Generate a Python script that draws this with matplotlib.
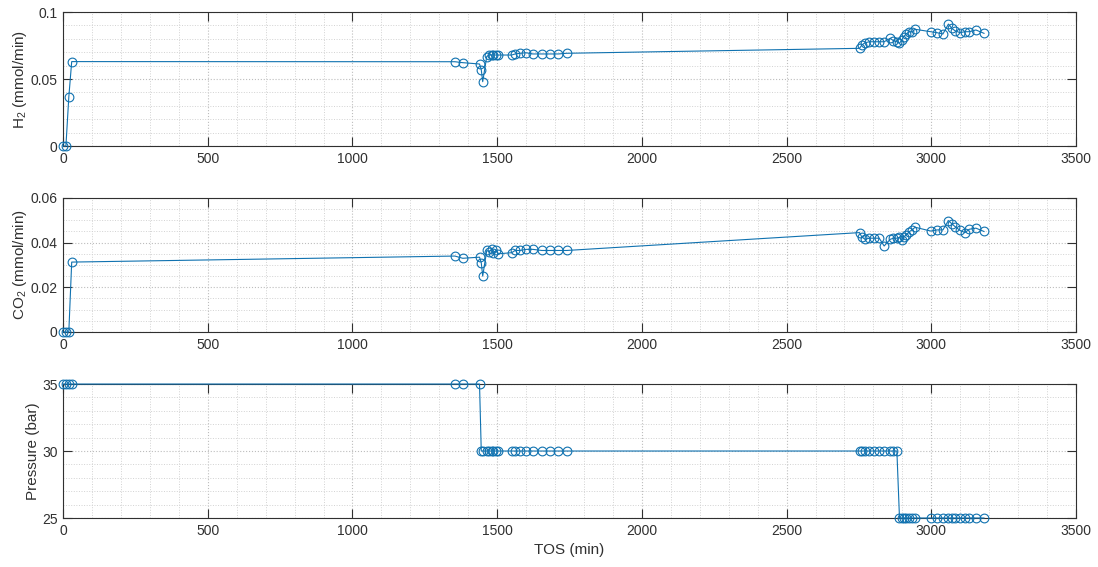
"""TOS profiles of H2 and CO2 production and reactor pressure."""

import matplotlib
matplotlib.use("Agg")
import matplotlib.pyplot as plt
from matplotlib.ticker import MultipleLocator, FuncFormatter

plt.rcParams["font.family"] = ["Liberation Sans", "DejaVu Sans"]
plt.rcParams["mathtext.fontset"] = "custom"
plt.rcParams["mathtext.rm"] = "Liberation Sans"
plt.rcParams["mathtext.default"] = "regular"

# time on stream (min)
tos = [0, 10, 20, 30,
       1354, 1381, 1439, 1445, 1450, 1464, 1472, 1481, 1486, 1496, 1503,
       1550, 1562, 1579, 1600, 1623, 1654, 1683, 1711, 1740,
       2752, 2760, 2771, 2786, 2802, 2820, 2837, 2858, 2869, 2881, 2890,
       2898, 2904, 2913, 2924, 2933, 2944, 2998, 3019, 3040, 3059, 3071,
       3082, 3099, 3116, 3131, 3154, 3182]

h2 = [0, 0, 0.0366, 0.063,
      0.0629, 0.0622, 0.0612, 0.057, 0.048, 0.0668, 0.0679, 0.0679, 0.0679,
      0.0679, 0.0679, 0.0679, 0.0687, 0.0692, 0.0696, 0.0687, 0.0687,
      0.0687, 0.0687, 0.0692,
      0.0729, 0.0754, 0.0771, 0.0778, 0.0778, 0.0778, 0.0778, 0.0804,
      0.0786, 0.0778, 0.0767, 0.0791, 0.0816, 0.0836, 0.0853, 0.0853,
      0.0871, 0.0853, 0.0846, 0.0836, 0.0910, 0.0878, 0.0860, 0.0846,
      0.0853, 0.0853, 0.0866, 0.0841]

co2 = [0, 0, 0, 0.0313,
       0.0340, 0.0330, 0.0335, 0.0310, 0.0250, 0.0365, 0.0360, 0.0370,
       0.0355, 0.0365, 0.0350, 0.0355, 0.0365, 0.0365, 0.0370, 0.0370,
       0.0365, 0.0365, 0.0365, 0.0365,
       0.0445, 0.0425, 0.0415, 0.0420, 0.0420, 0.0420, 0.0385, 0.0415,
       0.0420, 0.0420, 0.0424, 0.0412, 0.0425, 0.0435, 0.0449, 0.0457,
       0.0469, 0.0452, 0.0457, 0.0457, 0.0499, 0.0484, 0.0472, 0.0455,
       0.0445, 0.0460, 0.0465, 0.0450]

pressure = [35, 35, 35, 35,
            35, 35, 35, 30, 30, 30, 30, 30, 30, 30, 30,
            30, 30, 30, 30, 30, 30, 30, 30, 30,
            30, 30, 30, 30, 30, 30, 30, 30, 30, 30, 25,
            25, 25, 25, 25, 25, 25, 25, 25, 25, 25, 25,
            25, 25, 25, 25, 25, 25]

panels = [
    (h2, "H$_2$ (mmol/min)", (0, 0.1), 0.05, 0.01),
    (co2, "CO$_2$ (mmol/min)", (0, 0.06), 0.02, 0.005),
    (pressure, "Pressure (bar)", (25, 35), 5, 1),
]

color = "#1072b0"
dark = "#303030"

fig = plt.figure(figsize=(10.98, 5.67), dpi=100)
bottoms = [0.7425, 0.4145, 0.0864]

for (vals, label, ylim, major, minor), b in zip(panels, bottoms):
    ax = fig.add_axes([0.0574, b, 0.9226, 0.2363])
    ax.plot(tos, vals, color=color, lw=0.8, marker="o", ms=6.3,
            mfc="none", mew=0.8, clip_on=False, zorder=3)
    ax.set_xlim(0, 3500)
    ax.set_ylim(*ylim)
    ax.xaxis.set_major_locator(MultipleLocator(500))
    ax.xaxis.set_minor_locator(MultipleLocator(100))
    ax.yaxis.set_major_locator(MultipleLocator(major))
    ax.yaxis.set_minor_locator(MultipleLocator(minor))
    ax.yaxis.set_major_formatter(FuncFormatter(lambda v, p: f"{v:g}"))
    ax.grid(which="major", color="#bdbdbd", ls=":", lw=0.8)
    ax.grid(which="minor", color="#d2d2d2", ls=":", lw=0.7)
    ax.set_axisbelow(True)
    ax.tick_params(which="major", direction="in", length=6.5, width=0.8,
                   top=True, right=True, colors=dark, labelsize=10,
                   pad=4)
    ax.tick_params(which="minor", length=0, top=True, right=True)
    for s in ax.spines.values():
        s.set_color(dark)
        s.set_linewidth(0.8)
    ax.set_ylabel(label, fontsize=11, color=dark, labelpad=1)

ax.set_xlabel("TOS (min)", fontsize=11, color=dark)

fig.savefig("out.png", dpi=100, facecolor="white")
